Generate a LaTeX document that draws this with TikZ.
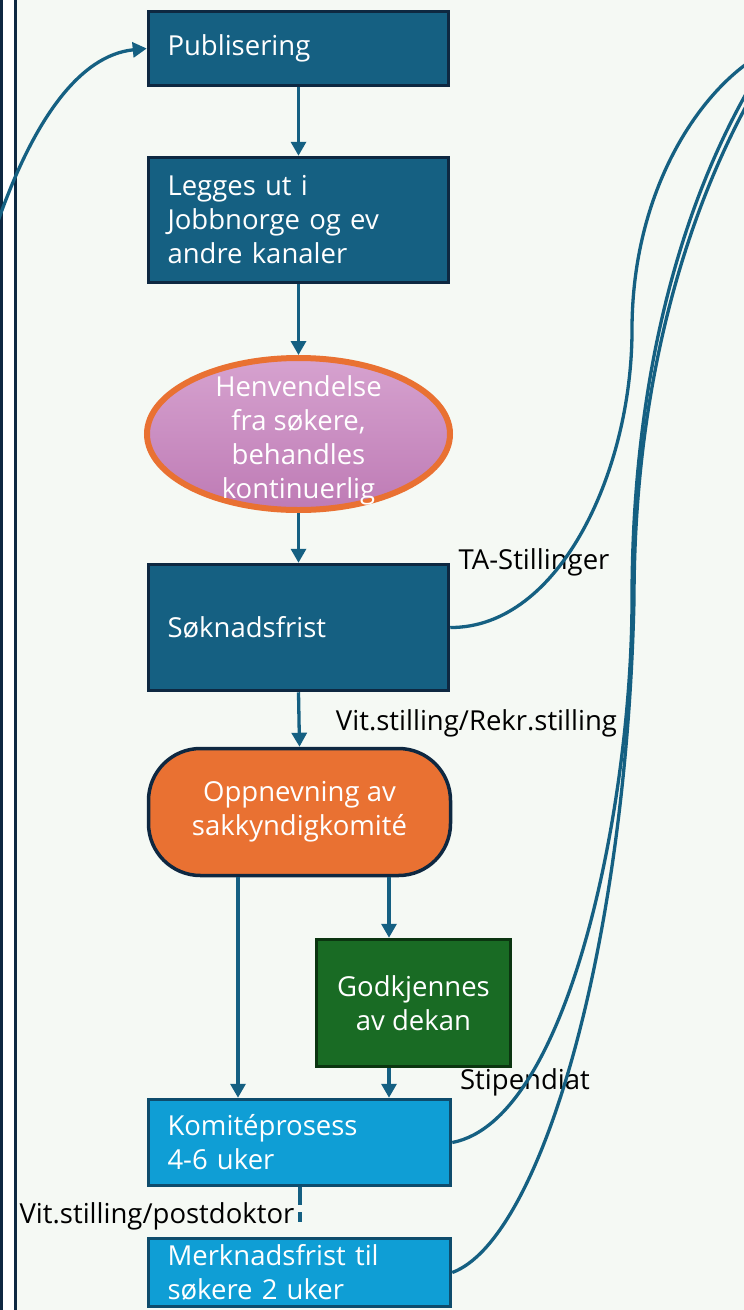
\documentclass[tikz,border=0pt]{standalone}
\usepackage{fontspec}
\setmainfont{Open Sans}
\usetikzlibrary{arrows.meta,shapes.geometric}
\definecolor{bg}{HTML}{F5F9F4}
\definecolor{dk}{HTML}{156082}
\definecolor{dkb}{HTML}{0E2841}
\definecolor{org}{HTML}{E97132}
\definecolor{grn}{HTML}{196B24}
\definecolor{grnb}{HTML}{0B3510}
\definecolor{lb}{HTML}{0F9ED5}
\definecolor{lbb}{HTML}{0E4C6C}
\definecolor{pkt}{HTML}{D6A2CF}
\definecolor{pkb}{HTML}{BE7BB5}
\tikzset{
  txt/.style={font=\fontsize{27.5}{34}\selectfont},
  box/.style={txt, draw=dkb, line width=3.5pt, fill=dk, text=white, align=left,
    text width=262pt, inner xsep=19pt, inner ysep=0pt, minimum width=300pt},
  lbox/.style={box, fill=lb, draw=lbb, text width=264pt, minimum width=302pt},
  arr/.style={draw=dk, line width=3.3pt, -{Triangle[length=14pt,width=15pt]}},
  curve/.style={draw=dk, line width=3.3pt},
  lab/.style={txt, text=black, inner sep=0pt},
}
\begin{document}
\begin{tikzpicture}[x=1pt,y=-1pt]
\useasboundingbox (0,0) rectangle (744,1310);
\clip (0,0) rectangle (744,1310);
\fill[bg] (0,0) rectangle (744,1310);
\fill[white] (0,0) rectangle (17,1310);
\fill[dkb] (0,0) rectangle (3,1310);
\fill[dkb] (14,0) rectangle (17,1310);

% nodes
\node[box, minimum height=74pt] (pub) at (298.5,48.5) {Publisering};
\node[box, minimum height=125pt] (leg) at (298.5,220) {Legges ut i\\Jobbnorge og ev\\andre kanaler};
\node[ellipse, draw=org, line width=6pt, top color=pkt, bottom color=pkb,
      minimum width=303pt, minimum height=152pt, inner sep=0pt] (ell) at (298.5,434) {};
\node[txt, text=white, align=center, inner sep=0pt] (ellt) at (298.5,440)
      {Henvendelse\\fra søkere,\\behandles\\kontinuerlig};
\node[box, minimum height=126pt] (sok) at (298.5,627.5) {Søknadsfrist};
\node[txt, draw=dkb, line width=3.5pt, fill=org, text=white, align=center,
      rounded corners=52pt, minimum width=302pt, minimum height=127pt, inner sep=0pt]
      (opp) at (299.5,812) {Oppnevning av\\sakkyndigkomité};
\node[txt, draw=grnb, line width=3.5pt, fill=grn, text=white, align=center,
      minimum width=194pt, minimum height=127pt, inner sep=0pt]
      (god) at (413.5,1003) {Godkjennes\\av dekan};
\node[lbox, minimum height=86pt] (kom) at (299.5,1142.5) {Komitéprosess\\4-6 uker};
\node[lbox, minimum height=68pt] (mer) at (299.5,1272.5) {Merknadsfrist til\\søkere 2 uker};

% labels
\node[lab] (lta) at (534,562) {TA-Stillinger};
\node[lab] (lvr) at (476.5,723) {Vit.stilling/Rekr.stilling};
\node[lab] (lst) at (525,1082) {Stipendiat};
\node[lab] (lvp) at (157,1216) {Vit.stilling/postdoktor};

% arrows
\draw[arr] (pub.south) -- (leg.north);
\draw[arr] (leg.south) -- (ell.north);
\draw[arr] (ell.south) -- (sok.north);
\draw[arr] (sok.south) -- (opp.north);
\draw[arr] ([xshift=-61.5pt]opp.south) -- ([xshift=-61.5pt]opp.south |- kom.north);
\draw[arr] ([xshift=-24.5pt]god.north |- opp.south) -- ([xshift=-24.5pt]god.north);
\draw[arr] ([xshift=-24.5pt]god.south) -- ([xshift=-24.5pt]god.south |- kom.north);
\draw[draw=dk, line width=3.3pt, dash pattern=on 18pt off 7pt on 10pt off 60pt]
  ([xshift=0.5pt]kom.south) -- ([xshift=0.5pt]kom.south |- mer.north);

% curves
\coordinate (offL) at (-10,245);
\coordinate (offR1) at (760,55);
\coordinate (offR2) at (760,70);
\coordinate (offR3) at (768,68);
\draw[arr] (offL) .. controls (30,120) and (80,55) .. (pub.west);
\draw[curve] (sok.east) .. controls (560,628) and (632,470) .. (632,330)
  .. controls (632,190) and (700,90) .. (offR1);
\draw[curve] (kom.east) .. controls (570,1120) and (632,800) .. (632,600)
  .. controls (632,380) and (680,200) .. (offR2);
\draw[curve] (mer.east) .. controls (540,1240) and (626,950) .. (634,600)
  .. controls (634,380) and (688,198) .. (offR3);
\end{tikzpicture}
\end{document}
